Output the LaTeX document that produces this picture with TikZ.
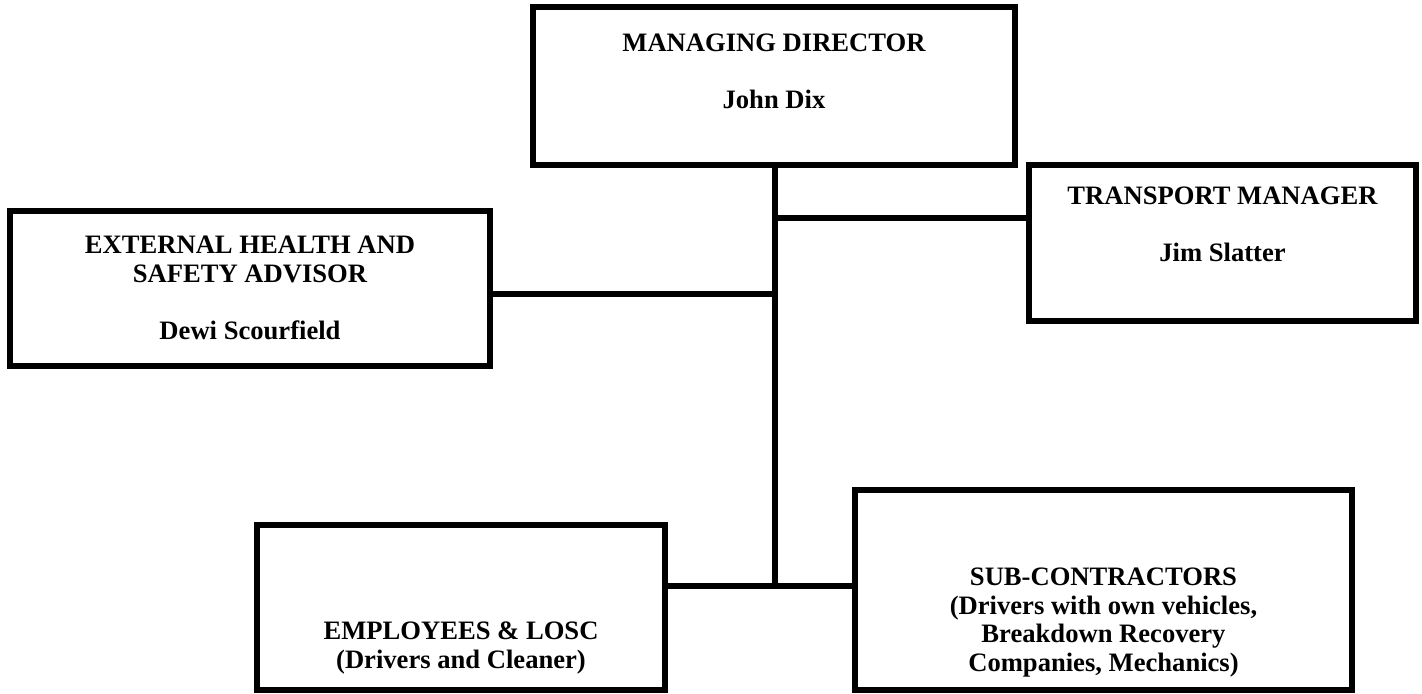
\documentclass[tikz,border=0pt]{standalone}
\usepackage{fontspec}
\setmainfont{Liberation Serif}

\begin{document}
\begin{tikzpicture}[x=0.5pt,y=-0.5pt,
  box/.style={draw,line width=3pt,rectangle,inner sep=0pt},
  conn/.style={line width=3pt},
  txt/.style={font=\fontsize{13.3}{14.25}\selectfont\bfseries,align=center,inner sep=0pt},
]
\useasboundingbox (0,0) rectangle (1422,694);

%% Layout parameters
\def\px{0.5pt}    % one unit of the grid
\def\spine{775}   % x of the main vertical line
\def\yTM{218}     % branch to transport manager
\def\yEH{294.5}   % branch to health advisor
\def\yLow{586}    % bottom branch

%% ---- Boxes ----
\node[box,minimum width=482*\px,minimum height=158*\px] (md)  at (774,86)     {};
\node[box,minimum width=387*\px,minimum height=156*\px] (tm)  at (1222.5,243) {};
\node[box,minimum width=480*\px,minimum height=155*\px] (ehs) at (250,288.5)  {};
\node[box,minimum width=408*\px,minimum height=165*\px] (emp) at (461,607)    {};
\node[box,minimum width=497*\px,minimum height=200*\px] (sub) at (1103.5,590) {};

%% ---- Texts ----
\node[txt] (mdT)  at (774,71)    {MANAGING DIRECTOR\\[14.25pt]John Dix};
\node[txt] (tmT)  at (1222.5,224) {TRANSPORT MANAGER\\[14.25pt]Jim Slatter};
\node[txt] (ehsT) at (250,288)   {EXTERNAL HEALTH AND\\SAFETY ADVISOR\\[14.25pt]Dewi Scourfield};
\node[txt] (empT) at (461,648)   {EMPLOYEES \& LOSC\\(Drivers and Cleaner)};
\node[txt] (subT) at (1103.5,622.5) {SUB-CONTRACTORS\\(Drivers with own vehicles,\\Breakdown Recovery\\Companies, Mechanics)};

%% ---- Connectors ----
\coordinate (jTM)  at (\spine,\yTM);
\coordinate (jEH)  at (\spine,\yEH);
\coordinate (jLow) at (\spine,\yLow);

\draw[conn] (md.south -| jLow) -- (jLow);
\draw[conn] (jTM) -- (jTM -| tm.west);
\draw[conn] (jEH) -- (jEH -| ehs.east);
\draw[conn] (emp.east |- jLow) -- (sub.west |- jLow);

\end{tikzpicture}
\end{document}
